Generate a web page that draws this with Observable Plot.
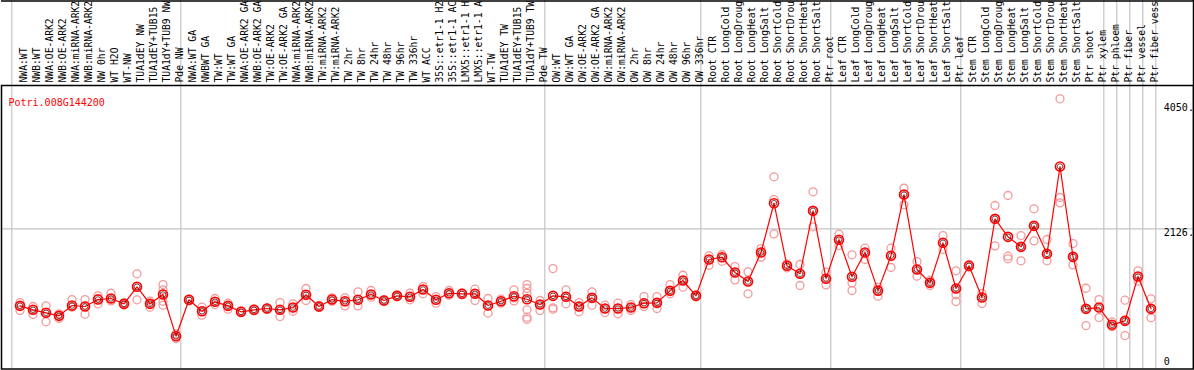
<!DOCTYPE html>
<html><head><meta charset="utf-8">
<script src="https://cdn.jsdelivr.net/npm/d3@7"></script>
<script src="https://cdn.jsdelivr.net/npm/@observablehq/plot@0.6"></script>
<style>body{margin:0;background:#fff;overflow:hidden}</style>
</head><body><div id="chart"></div>
<script>
const geneId = "Potri.008G144200";
const samples = [
  "NWA:WT","NWB:WT","NWA:OE-ARK2","NWB:OE-ARK2","NWA:miRNA-ARK2","NWB:miRNA-ARK2","NW 0hr","WT H2O","WT-NW","TUA1dEY NW","TUA1dEY+TUB15 NW","TUA1dY+TUB9 NW","Pde NW",
  "NWA:WT GA","NWBWT GA","TW:WT","TW:WT GA","NWA:OE-ARK2 GA","NWB:OE-ARK2 GA","TW:OE-ARK2","TW:OE-ARK2 GA","NWA:miRNA-ARK2","NWB:miRNA-ARK2","TW:miRNA-ARK2","TW:miRNA-ARK2","TW 2hr","TW 8hr","TW 24hr","TW 48hr","TW 96hr","TW 336hr","WT ACC","35S::etr1-1 H2O","35S::etr1-1 ACC","LMX5::etr1-1 H2O","LMX5::etr1-1 ACC","WT-TW","TUA1dEY TW","TUA1dEY+TUB15 TW","TUA1dY+TUB9 TW","Pde TW",
  "OW:WT","OW:WT GA","OW:OE-ARK2","OW:OE-ARK2 GA","OW:miRNA-ARK2","OW:miRNA-ARK2","OW 2hr","OW 8hr","OW 24hr","OW 48hr","OW 96hr","OW 336hr",
  "Root CTR","Root LongCold","Root LongDrought","Root LongHeat","Root LongSalt","Root ShortCold","Root ShortDrought","Root ShortHeat","Root ShortSalt","Ptr root",
  "Leaf CTR","Leaf LongCold","Leaf LongDrought","Leaf LongHeat","Leaf LongSalt","Leaf ShortCold","Leaf ShortDrought","Leaf ShortHeat","Leaf ShortSalt","Ptr leaf",
  "Stem CTR","Stem LongCold","Stem LongDrought","Stem LongHeat","Stem LongSalt","Stem ShortCold","Stem ShortDrought","Stem ShortHeat","Stem ShortSalt","Ptr shoot","Ptr xylem",
  "Ptr phloem","Ptr fiber","Ptr vessel","Ptr fiber vessel"
];
const labelMaxChars = 14;
const groupSizes = [13, 28, 12, 10, 10, 11, 1, 1, 1, 1];
const means = [
  940,879,833,786,945,930,1037,1053,971,1233,971,1114,473,
  1033,857,1002,940,848,879,899,879,914,1110,930,1037,1011,1033,1114,1022,1094,1079,1191,1033,1134,1125,1125,945,1011,1088,1042,960,
  1094,1079,930,1063,899,899,914,981,986,1171,1330,1094,
  1653,1688,1453,1314,1761,2519,1556,1433,2402,1358,
  1958,1388,1761,1174,1712,2653,1499,1294,1910,1207,
  1556,1068,2279,2002,1848,2171,1740,3084,1694,894,914,
  648,709,1391,894
];
const replicates = [
  [991,940,868],[930,879,806],[940,833,694],[817,786,745],[1037,919,930],[1037,940,811],[1094,1053,971],[1134,1053,1017],[986,971,955],[1433,1233,1033],[1011,971,919],[1268,1186,1125,1011,950],[509,473,437],
  [1048,1033,1017],[919,857,796],[1053,1002,960],[981,940,888],[863,848,833],[894,879,864],[909,899,889],[991,879,776],[971,914,857],[1207,1110,1022],[945,930,915],[1063,1037,1011],[1063,1011,940],[1156,1033,940],[1176,1114,1073],[1037,1022,1007],[1110,1094,1079],[1134,1079,1033],[1237,1191,1125],[1083,1033,981],[1176,1134,1104],[1140,1125,1110],[1196,1125,1022],[1053,945,827],[1042,1011,981],[1186,1063,1017],[1268,1207,1134,879,765,734],[1022,960,868],
  [1514,909,888],[1186,1079,971],[991,930,848],[1156,1063,950],[950,899,837],[981,899,817],[960,914,868],[1083,981,930],[1083,986,899],[1268,1171,1125],[1411,1330,1227],[1110,1094,1079],
  [1710,1653,1565],[1730,1688,1627],[1545,1453,1340],[1463,1314,1125],[1822,1761,1688],[2926,2576,2048],[1587,1556,1525],[1576,1433,1253],[2695,2402,2156],[1458,1355,1263],
  [2043,1956,1868],[1725,1294,1176],[1827,1761,1653],[1227,1174,1088],[1827,1712,1530],[2750,2653,2495],[1622,1499,1396],[1335,1294,1253],[2022,1910,1807],[1479,1207,1110,1007],
  [1576,1556,1535],[1130,1068,976],[2484,2279,1863],[2638,1704,1664],[2022,1848,1633],[2433,2171,1940],[1961,1740,1633],[4126,2607,2525],[1899,1694,1571],[1211,894,637],[1037,914,760],
  [694,648,617],[1027,709,483],[1479,1391,1320],[1048,894,756]
];
const yTicks = [0, 2126, 4050];
const yTickLabels = ["0", "2126.", "4050."];

const xDomain = [-1.423, 90.27];
const yDomain = [-32, 4331];
const meanData = samples.map((s, i) => ({i, s, label: s.slice(0, labelMaxChars), v: means[i]}));
const repData = replicates.flatMap((r, i) => r.map(v => ({i, v})));
const separators = [-1, ...d3.cumsum(groupSizes).map(c => c - 1)].map(b => b + 0.37);
const tickData = yTicks.map((t, k) => ({t, label: yTickLabels[k]}));

const chart = Plot.plot({
  width: 1194, height: 370,
  marginTop: 85, marginBottom: 1.5, marginLeft: 1, marginRight: 1,
  x: {type: "linear", domain: xDomain, axis: null},
  y: {domain: yDomain, axis: null},
  style: {fontFamily: "'DejaVu Sans Mono', monospace", fontSize: "10px", overflow: "hidden", background: "white", color: "black"},
  marks: [
    Plot.ruleY([2126], {stroke: "#c4c4c4", strokeWidth: 1.2}),
    Plot.ruleX(separators, {x: d => d, stroke: "#c4c4c4", strokeWidth: 1.2, insetTop: -85}),
    Plot.text(meanData, {x: "i", text: "label", frameAnchor: "top", rotate: -90, textAnchor: "start", dy: -3, fill: "black", fontSize: 9.7}),
    Plot.dot(repData, {x: "i", y: "v", r: 4, stroke: "#f29a9a", strokeWidth: 1.3, fill: "none"}),
    Plot.line(meanData, {x: "i", y: "v", stroke: "red", strokeWidth: 1.2}),
    Plot.dot(meanData, {x: "i", y: "v", r: 4.5, stroke: "red", strokeWidth: 1.6, fill: "none"}),
    Plot.dot(meanData, {x: "i", y: "v", r: 2.8, stroke: "#400", strokeWidth: 0.7, fill: "none"}),
    Plot.text(tickData.filter(d => d.t > 0), {y: "t", text: "label", frameAnchor: "right", dx: -29.7, dy: 4, textAnchor: "start", fill: "black"}),
    Plot.text(tickData.filter(d => d.t === 0), {y: "t", text: "label", frameAnchor: "right", dx: -29.7, dy: -4.7, textAnchor: "start", fill: "black"}),
    Plot.text([geneId], {frameAnchor: "top-left", dx: 7, dy: 13, fill: "red", textAnchor: "start"}),
    Plot.frame({stroke: "black", strokeWidth: 1.5}),
    Plot.ruleX([xDomain[1]], {stroke: "black", strokeWidth: 1.5, insetTop: -85}),
    Plot.ruleY([yDomain[1]], {stroke: "black", strokeWidth: 1.5, dy: -84.5})
  ]
});
document.getElementById("chart").appendChild(chart);
</script>
</body></html>
